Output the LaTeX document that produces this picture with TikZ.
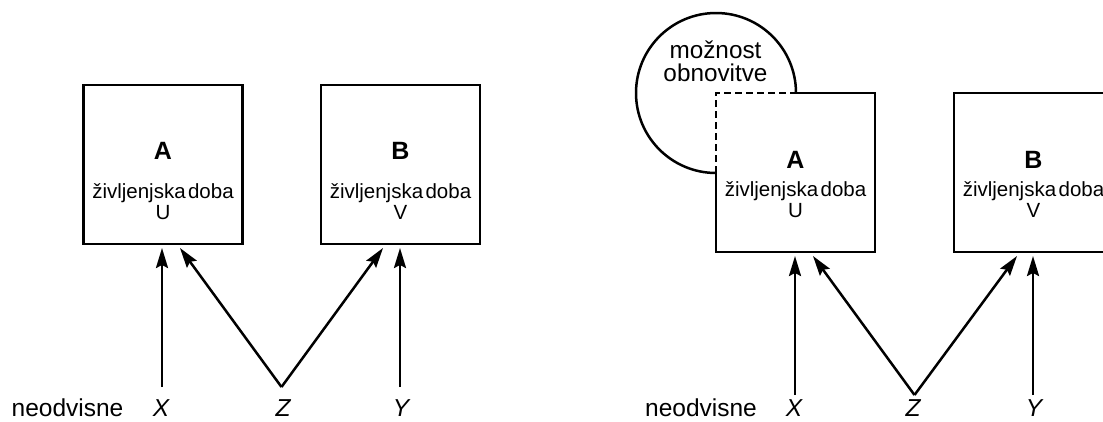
\documentclass[tikz,border=0pt]{standalone}
\usepackage{fontspec}
\setmainfont{Liberation Sans}
\usetikzlibrary{arrows.meta}
\begin{document}
\begin{tikzpicture}[x=1pt,y=-1pt,
  lifebox/.style={draw,line width=2.8pt,minimum width=159pt,minimum height=159pt,inner sep=0pt,outer sep=0pt},
  arr/.style={line width=2.5pt,-{Stealth[length=20pt,width=12pt,inset=3pt]}},
  boxtitle/.style={font=\fontsize{25}{26}\selectfont\bfseries,inner sep=0pt},
  boxtext/.style={font=\fontsize{20.5}{21}\selectfont,align=center,inner sep=0pt},
  lbl/.style={font=\fontsize{24.5}{26}\selectfont,inner sep=0pt,anchor=base,text depth=0pt},
  var/.style={lbl,font=\fontsize{24.5}{26}\selectfont\itshape}]
\useasboundingbox (0,0) rectangle (1103,421);
\clip (0,0) rectangle (1103,421);
% ---------- left panel ----------
\node[lifebox] (LA) at (163,164.5) {};
\node[lifebox] (LB) at (400.5,164.5) {};
\node[boxtitle] (LAt) at (163,151) {A};
\node[boxtext] (LAx) at (163,202) {življenjska\hspace{0.12em}doba\\U};
\node[boxtitle] (LBt) at (400.5,151) {B};
\node[boxtext] (LBx) at (400.5,202) {življenjska\hspace{0.12em}doba\\V};
\node[lbl] (Ln) at (67.5,416) {neodvisne};
\node[var] (LX) at (161,416) {X};
\node[var] (LZ) at (283,416) {Z};
\node[var] (LY) at (401,416) {Y};
\coordinate (LXs) at (162,387);
\coordinate (LZs) at (281.5,387);
\coordinate (LYs) at (400,387);
\coordinate (LAx1) at (162,248);
\coordinate (LAz) at (180,248);
\coordinate (LBz) at (383,248);
\coordinate (LBy) at (400,248);
\draw[arr] (LXs) -- (LAx1);
\draw[arr] (LZs) -- (LAz);
\draw[arr] (LZs) -- (LBz);
\draw[arr] (LYs) -- (LBy);
% ---------- right panel ----------
\coordinate (RAnw) at (716,93);
\draw[line width=2.8pt] (796,93) -- (875,93) -- (875,252) -- (716,252) -- (716,173);
\draw[line width=2.8pt,dash pattern=on 7pt off 4pt] (716,173) -- (RAnw) -- (796,93);
\draw[line width=2.5pt] (796,93) arc[start angle=0,end angle=-270,radius=80];
\node[lifebox,draw=none] (RA) at (795.5,172.5) {};
\node[lifebox] (RB) at (1033.5,172.5) {};
\node[font=\fontsize{24.3}{23}\selectfont,align=center,inner sep=0pt] (Rc) at (715.5,61) {možnost\\obnovitve};
\node[boxtitle] (RAt) at (795.5,160) {A};
\node[boxtext] (RAx) at (795.5,200) {življenjska\hspace{0.12em}doba\\U};
\node[boxtitle] (RBt) at (1033.5,160) {B};
\node[boxtext] (RBx) at (1033.5,200) {življenjska\hspace{0.12em}doba\\V};
\node[lbl] (Rn) at (701,416) {neodvisne};
\node[var] (RX) at (794,416) {X};
\node[var] (RZ) at (913,416) {Z};
\node[var] (RY) at (1034,416) {Y};
\coordinate (RXs) at (795,395);
\coordinate (RZs) at (914.5,395);
\coordinate (RYs) at (1033,395);
\coordinate (RAx1) at (795,256);
\coordinate (RAz) at (813,256);
\coordinate (RBz) at (1017,256);
\coordinate (RBy) at (1033,256);
\draw[arr] (RXs) -- (RAx1);
\draw[arr] (RZs) -- (RAz);
\draw[arr] (RZs) -- (RBz);
\draw[arr] (RYs) -- (RBy);
\end{tikzpicture}
\end{document}
